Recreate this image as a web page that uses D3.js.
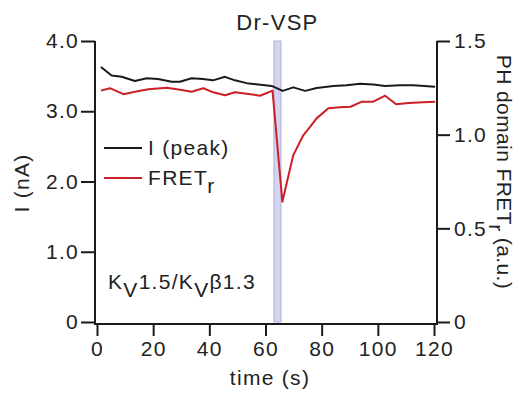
<!doctype html>
<html>
<head>
<meta charset="utf-8">
<script src="https://d3js.org/d3.v7.min.js"></script>
<style>
  body { margin: 0; background: #fff; }
  svg text { font-family: "Liberation Sans", Arial, sans-serif; fill: #222; letter-spacing: 1.3px; }
</style>
</head>
<body>
<svg id="svg" width="525" height="399"></svg>
<script>
// peak current (nA)
const timeI = [1.4, 5.2, 8.8, 13.5, 17.7, 21.7, 26.6, 29.5, 33.7, 37.7, 41.3, 45.6, 49.1, 53.3, 57.4, 62.2,
               62.8, 66.1, 69.9, 74.1, 78.2, 84.2, 88.9, 93.7, 98.4, 102.6, 107.9, 112.6, 120.4];
const peakI = [3.63, 3.51, 3.49, 3.43, 3.47, 3.46, 3.42, 3.42, 3.47, 3.46, 3.44, 3.49, 3.44, 3.40, 3.38, 3.36,
               3.35, 3.29, 3.34, 3.29, 3.33, 3.36, 3.37, 3.39, 3.38, 3.36, 3.37, 3.37, 3.35];
// PH domain FRET ratio
const timeF = [1.4, 4.6, 9.4, 13.5, 18.3, 24.8, 29.6, 33.7, 37.9, 41.4, 45.6, 49.1, 53.3, 58.0, 62.5,
               66.0, 69.9, 73.5, 75.8, 78.2, 82.4, 86.5, 90.3, 94.3, 98.4, 102.6, 106.5, 110.9, 116.2, 120.4];
const fret = [1.235, 1.248, 1.216, 1.229, 1.242, 1.251, 1.240, 1.229, 1.248, 1.226, 1.210, 1.226, 1.219, 1.208, 1.235,
              0.642, 0.891, 0.998, 1.04, 1.087, 1.141, 1.146, 1.149, 1.176, 1.176, 1.208, 1.162, 1.169, 1.173, 1.176];
const stim = [63.0, 65.5];   // Dr-VSP activation window (s)

const xTicks = [0, 20, 40, 60, 80, 100, 120];
const iTicks = [0, 1, 2, 3, 4];
const fTicks = [0, 0.5, 1, 1.5];

const svg = d3.select("#svg");
const plotL = 95, plotR = 437, plotT = 41, plotB = 322, axisY = 324;
const ink = "#1a1a1a", red = "#cc1f26";
const fs = 21;

const x = d3.scaleLinear().domain([0, 120]).range([97, 434]);
const yI = d3.scaleLinear().domain([0, 4]).range([plotB, plotT]);
const yF = d3.scaleLinear().domain([0, 1.5]).range([plotB, plotT]);

// stimulus bar
svg.append("rect")
  .attr("x", x(stim[0])).attr("y", plotT)
  .attr("width", x(stim[1]) - x(stim[0])).attr("height", plotB - plotT)
  .attr("fill", "#d4d4ee").attr("stroke", "#aeaedc").attr("stroke-width", 1);

svg.append("text").attr("x", x((stim[0] + stim[1]) / 2)).attr("y", 30)
  .attr("text-anchor", "middle").attr("font-size", 22).text("Dr-VSP");

// axes
function styleAxis(g) {
  g.select(".domain").remove();
  g.selectAll(".tick line").attr("stroke", ink).attr("stroke-width", 2);
  g.selectAll(".tick text").attr("font-size", fs).attr("fill", "#222")
    .attr("font-family", '"Liberation Sans", Arial, sans-serif');
}

svg.append("g").attr("transform", `translate(${plotL},0)`)
  .call(d3.axisLeft(yI).tickValues(iTicks).tickSize(14).tickPadding(2)
    .tickFormat(d => d === 0 ? "0" : d.toFixed(1)))
  .call(styleAxis);

svg.append("g").attr("transform", `translate(${plotR},0)`)
  .call(d3.axisRight(yF).tickValues(fTicks).tickSize(13).tickPadding(4)
    .tickFormat(d => d === 0 ? "0" : d.toFixed(1)))
  .call(styleAxis);

svg.append("g").attr("transform", `translate(0,${axisY})`)
  .call(d3.axisBottom(x).tickValues(xTicks).tickSize(12).tickPadding(5)
    .tickFormat(d3.format("d")))
  .call(styleAxis);

svg.append("path")
  .attr("d", `M${plotL},${plotT}V${axisY}H${plotR}V${plotT}`)
  .attr("fill", "none").attr("stroke", ink).attr("stroke-width", 2);

// data lines
const lineI = d3.line().x((d, i) => x(timeI[i])).y(d => yI(d));
const lineF = d3.line().x((d, i) => x(timeF[i])).y(d => yF(d));

svg.append("path").datum(fret).attr("d", lineF)
  .attr("fill", "none").attr("stroke", red).attr("stroke-width", 2).attr("stroke-linejoin", "round");
svg.append("path").datum(peakI).attr("d", lineI)
  .attr("fill", "none").attr("stroke", ink).attr("stroke-width", 2).attr("stroke-linejoin", "round");

// legend
const legend = [
  { label: "I (peak)", color: ink, sub: null, y: 148 },
  { label: "FRET", color: red, sub: "r", y: 178 }
];
legend.forEach(l => {
  svg.append("line").attr("x1", 104).attr("x2", 142).attr("y1", l.y).attr("y2", l.y)
    .attr("stroke", l.color).attr("stroke-width", 2);
  const t = svg.append("text").attr("x", 148).attr("y", l.y + 7).attr("font-size", fs).text(l.label);
  if (l.sub) t.append("tspan").attr("dy", 8).text(l.sub);
});

// construct label
const kv = svg.append("text").attr("x", 108).attr("y", 289).attr("font-size", fs);
kv.append("tspan").text("K");
kv.append("tspan").attr("dy", 8).text("V");
kv.append("tspan").attr("dy", -8).text("1.5/K");
kv.append("tspan").attr("dy", 8).text("V");
kv.append("tspan").attr("dy", -8).text("β1.3");

// axis titles
svg.append("text").attr("x", 270).attr("y", 385).attr("text-anchor", "middle")
  .attr("font-size", fs).text("time (s)");

svg.append("text").attr("transform", "translate(29,183) rotate(-90)")
  .attr("text-anchor", "middle").attr("font-size", fs).text("I (nA)");

const rt = svg.append("text").attr("transform", "translate(497,172) rotate(90)")
  .attr("text-anchor", "middle").attr("font-size", fs).style("letter-spacing", "0.4px");
rt.append("tspan").text("PH domain FRET");
rt.append("tspan").attr("dy", 8).text("r");
rt.append("tspan").attr("dy", -8).text(" (a.u.)");
</script>
</body>
</html>
